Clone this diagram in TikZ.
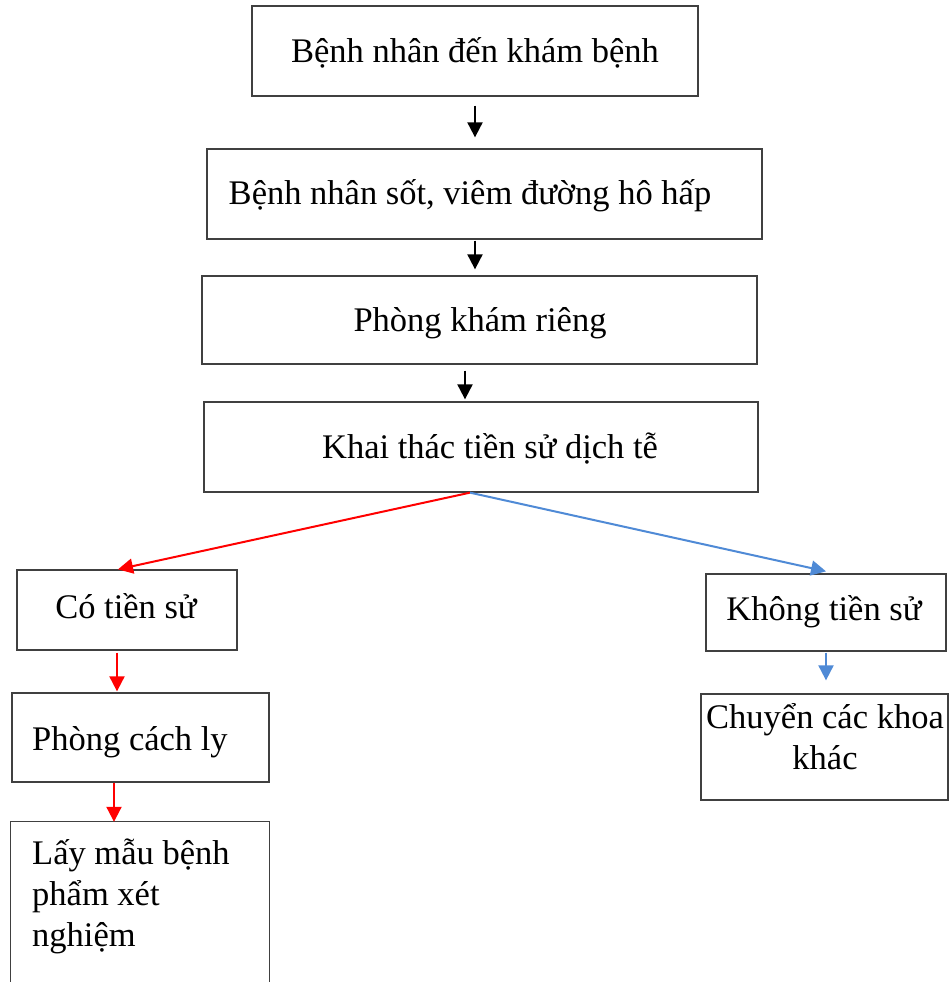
\documentclass[tikz,border=0pt]{standalone}
\usepackage{fontspec}
\setmainfont{Liberation Serif}
\usetikzlibrary{arrows.meta,calc}
\definecolor{boxgray}{RGB}{64,64,64}
\definecolor{myblue}{RGB}{79,138,214}
\tikzset{
  box/.style={draw=boxgray, line width=1.3pt, inner sep=0pt},
  openbox/.style={inner sep=0pt},
  txt/.style={inner sep=0pt, font=\fontsize{34.5}{41}\selectfont},
  arr/.style={line width=2pt, -{Triangle[width=15pt,length=15pt]}},
}
\begin{document}
\begin{tikzpicture}[x=1pt,y=-1pt]
\useasboundingbox[fill=white] (0,0) rectangle (950,982);
% boxes
\node[box, minimum width=446pt, minimum height=90pt] (b1) at (475,51) {};
\node[box, minimum width=555pt, minimum height=90pt] (b2) at (484.5,194) {};
\node[box, minimum width=555pt, minimum height=88pt] (b3) at (479.5,320) {};
\node[box, minimum width=554pt, minimum height=90pt] (b4) at (481,447) {};
\node[box, minimum width=220pt, minimum height=80pt] (b5) at (127,610) {};
\node[box, minimum width=257pt, minimum height=89pt] (b6) at (140.5,737.5) {};
\node[openbox, minimum width=258pt, minimum height=160pt] (b7) at (140,902) {};
\draw[draw=boxgray, line width=1.3pt] (b7.south west) -- (b7.north west) -- (b7.north east) -- (b7.south east);
\node[box, minimum width=240pt, minimum height=77pt] (b8) at (826,612.5) {};
\node[box, minimum width=247pt, minimum height=106pt] (b9) at (824.5,747) {};
% texts
\node[txt] (t1) at (475,53) {Bệnh nhân đến khám bệnh};
\node[txt] (t2) at (470,196) {Bệnh nhân sốt, viêm đường hô hấp};
\node[txt] (t3) at (480,323) {Phòng khám riêng};
\node[txt] (t4) at (490,449) {Khai thác tiền sử dịch tễ};
\node[txt] (t5) at (126,606) {Có tiền sử};
\node[txt, anchor=west] (t6) at (32,742) {Phòng cách ly};
\node[txt, anchor=north west, align=left] (t7) at (32,839) {Lấy mẫu bệnh\\phẩm xét\\nghiệm};
\node[txt] (t8) at (824,612) {Không tiền sử};
\node[txt, align=center] (t9) at (825,737) {Chuyển các khoa\\khác};
% connectors
\draw[arr] ($(b1.south)+(0,9)$) -- ($(b2.north)+(-9.5,-11)$);
\draw[arr] ($(b2.south)+(-9.5,1)$) -- ($(b3.north)+(-4.5,-6)$);
\draw[arr] ($(b3.south)+(-14.5,6)$) -- ($(b4.north)+(-16,-2)$);
\draw[arr, red] ($(b4.south)+(-11,0)$) -- ($(b5.north)+(-9,0)$);
\draw[arr, myblue] ($(b4.south)+(-11,0)$) -- ($(b8.north)+(0,-2)$);
\draw[arr, red] ($(b5.south)+(-10,2)$) -- ($(b6.north)+(-23.5,-1)$);
\draw[arr, red] ($(b6.south)+(-26.5,0)$) -- ($(b7.north)+(-26,0)$);
\draw[arr, myblue] ($(b8.south)+(0,1)$) -- ($(b9.north)+(1.5,-13)$);
\end{tikzpicture}
\end{document}
